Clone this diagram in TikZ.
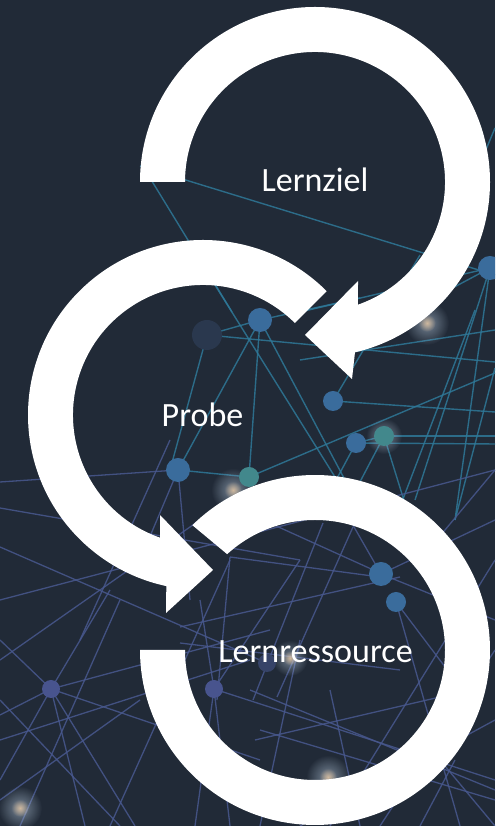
\documentclass[tikz,border=0pt]{standalone}
\usepackage{fontspec}
\setmainfont{Carlito}
\usetikzlibrary{fadings}
\tikzfading[name=glowfade, inner color=transparent!0, outer color=transparent!100]
\definecolor{bg}{RGB}{33,42,55}
\definecolor{tealline}{RGB}{46,120,152}
\definecolor{slateline}{RGB}{72,88,142}
\definecolor{dotblue}{RGB}{58,108,156}
\definecolor{dotteal}{RGB}{66,136,140}
\definecolor{dotdark}{RGB}{42,56,78}
\definecolor{dotslate}{RGB}{72,84,142}
\definecolor{glowc}{RGB}{190,210,230}
\definecolor{glowcore}{RGB}{235,200,160}
\tikzset{
  tl/.style={draw=tealline, line width=1.4pt, opacity=0.85},
  sl/.style={draw=slateline, line width=1.3pt, opacity=0.85},
  cyclearrow/.style={fill=white},
  steplabel/.style={text=white, font=\fontsize{34}{40}\selectfont, inner sep=0pt, anchor=base}
}
\begin{document}
\begin{tikzpicture}[x=1pt,y=1pt]
\useasboundingbox (0,0) rectangle (495,826);
\fill[bg] (0,0) rectangle (495,826);
% background network (pixel coordinates, y downward)
\begin{scope}[yshift=826pt, x=1pt, y=-1pt]
\clip (0,0) rectangle (495,826);
\foreach \a/\b/\c/\d in {140/166/495/275, 150/178/232/312, 495/128/465/200, 300/312/490/268,
  490/268/415/500, 490/268/455/520, 333/401/420/255, 333/401/495/412, 356/443/495/444,
  249/477/495/373, 260/320/207/335, 260/320/178/470, 260/320/249/477, 260/320/345/480,
  215/285/340/485, 260/320/360/298, 207/335/495/362, 384/436/356/443, 356/443/320/510,
  384/436/410/520, 384/436/340/520, 475/310/395/520, 495/368/455/520, 207/335/170/470,
  384/436/495/436, 300/360/495/330, 249/477/178/470, 490/268/430/300}
  \draw[tl] (\a,\b) -- (\c,\d);
\foreach \a/\b/\c/\d in {0/482/178/470, 178/470/140/560, 178/470/190/600, 0/508/300/560,
  0/547/260/660, 0/600/495/470, 80/640/170/440, 51/689/0/640, 51/689/110/590,
  51/689/270/630, 51/689/260/760, 51/689/135/826, 51/689/85/826, 51/689/0/780,
  51/689/0/715, 214/689/200/600, 214/689/195/826, 214/689/495/780, 214/689/300/560,
  214/689/230/826, 180/627/400/577, 230/557/380/577, 263/520/380/573, 323/523/253/700,
  353/527/277/697, 230/557/217/700, 180/643/400/670, 381/574/495/520, 381/574/350/520,
  396/602/470/700, 381/574/495/620, 420/560/495/470, 396/602/460/826, 250/690/495/790,
  260/730/495/800, 255/740/470/690, 440/760/495/826, 455/760/420/826, 300/826/495/720,
  0/740/250/660, 20/826/120/600, 110/826/230/560, 330/826/495/560, 0/800/140/700,
  0/660/200/520, 120/826/0/700, 260/826/300/640, 360/826/330/690, 495/650/380/826}
  \draw[sl] (\a,\b) -- (\c,\d);
\foreach \x/\y/\r in {427/323/22, 233/490/22, 20/808/22, 328/777/22, 290/658/18, 384/436/18}{
  \fill[glowc, path fading=glowfade, opacity=0.55] (\x,\y) circle (\r);
  \fill[glowcore, path fading=glowfade, opacity=0.75] (\x,\y) circle (0.4*\r);
}
\foreach \x/\y/\r in {490/268/12, 260/320/12, 333/401/10, 356/443/10, 178/470/12, 381/574/12, 396/602/10}
  \fill[dotblue] (\x,\y) circle (\r);
\fill[dotteal] (384,436) circle (10);
\fill[dotteal] (249,477) circle (10);
\fill[dotdark] (207,335) circle (15);
\fill[dotslate] (214,689) circle (9);
\fill[dotslate] (51,689) circle (9);
\fill[dotdark!60!dotslate] (267,663) circle (9);
\end{scope}
% circular arrows
\begin{scope}[shift={(315,644)}]
\fill[cyclearrow] (180:175) arc[start angle=180, end angle=-76.8, radius=175]
  -- (37,-197) -- (-10,-153) -- (43,-99) -- (-70.7:130)
  arc[start angle=-70.7, end angle=180, radius=130] -- cycle;
\end{scope}
\begin{scope}[shift={(203,411)}]
\fill[cyclearrow] (45:175) arc[start angle=45, end angle=257.9, radius=175]
  -- (-37,-198) -- (10,-155) -- (-43,-100) -- (250.7:130)
  arc[start angle=250.7, end angle=45, radius=130] -- cycle;
\end{scope}
\begin{scope}[shift={(315,176)}]
\fill[cyclearrow] (134.5:175) arc[start angle=134.5, end angle=-180, radius=175]
  -- (-180:130) arc[start angle=-180, end angle=132.5, radius=130] -- cycle;
\end{scope}
% labels
\node[steplabel] (lz) at (315,634) {Lernziel};
\node[steplabel] (pr) at (202.5,399) {Probe};
\node[steplabel] (lr) at (315.5,163) {Lernressource};
\end{tikzpicture}
\end{document}
